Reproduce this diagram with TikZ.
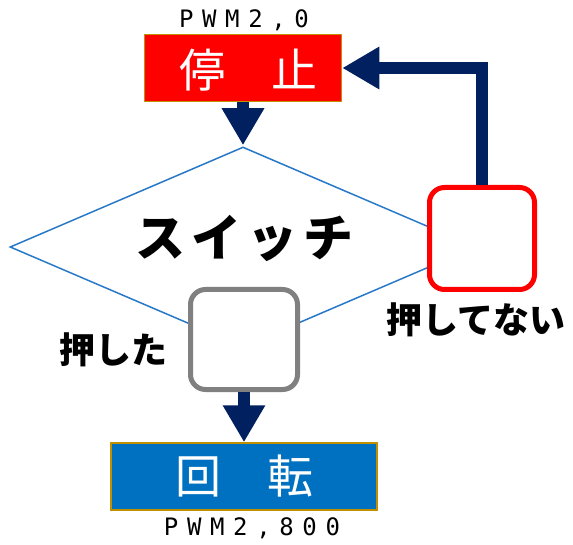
\documentclass[tikz,border=0pt]{standalone}
\usepackage{fontspec}
\newfontfamily\jp{Noto Sans CJK JP}
\newfontfamily\pwm[LetterSpace=36]{DejaVu Sans Mono}
\usetikzlibrary{arrows.meta,shapes.geometric,shadows}
\definecolor{navy}{HTML}{002060}
\definecolor{gold}{HTML}{C09000}
\definecolor{boxblue}{HTML}{0070C0}
\definecolor{linebl}{HTML}{2878C8}
\definecolor{greybd}{HTML}{808080}
\tikzset{
  procbox/.style={rectangle, draw=gold, line width=1.5pt, inner sep=0pt},
  condbox/.style={rectangle, rounded corners=15pt, fill=white, line width=5pt, inner sep=0pt,
    drop shadow={shadow xshift=2pt, shadow yshift=-2pt, opacity=0.25}},
  arr/.style={navy, line width=12.5pt, line join=miter, -{Triangle[width=40pt,length=37pt]}},
  bigtxt/.style={text=white, font=\jp\fontsize{46}{50}\selectfont, inner sep=0pt},
  lbl/.style={font=\jp\bfseries\fontsize{36}{40}\selectfont, inner sep=0pt},
  pwmtxt/.style={font=\pwm\fontsize{24}{26}\selectfont, inner sep=0pt}
}
\begin{document}
\begin{tikzpicture}[x=1pt,y=-1pt]
\useasboundingbox (0,0) rectangle (573,545);
% diamond
\node[diamond, draw=linebl, line width=1.5pt, minimum width=466pt, minimum height=200pt, inner sep=0pt] (dia) at (243,247) {};
\node[font=\jp\bfseries\fontsize{50}{54}\selectfont, inner sep=0pt] (sw) at (244,238) {ス\hspace{6pt}イ\hspace{6pt}ッ\hspace{6pt}チ};
% process boxes
\node[procbox, fill=red, minimum width=197pt, minimum height=67pt] (stop) at (243,68) {};
\node[bigtxt] (stoptxt) at (248,70) {停　止};
\node[procbox, fill=boxblue, minimum width=266pt, minimum height=67pt] (run) at (244,476.5) {};
\node[bigtxt] (runtxt) at (244.5,476) {回　転};
% PWM labels
\node[pwmtxt] (pwm0) at (244,20) {PWM2,0};
\node[pwmtxt] (pwm800) at (252,528) {PWM2,800};
% condition boxes
\node[condbox, draw=greybd, minimum width=107pt, minimum height=100pt] (yes) at (244,339.5) {};
\node[condbox, draw=red, minimum width=105pt, minimum height=102pt] (no) at (482,238.5) {};
% labels
\node[lbl] (lyes) at (113,350) {押した};
\node[lbl] (lno) at (476,320) {押してない};
% arrows
\draw[arr, shorten >=1pt] (stop.south) -- (dia.north);
\draw[arr] (yes.south) -- (run.north);
\draw[arr] (no.north) |- (stop.east);
\end{tikzpicture}
\end{document}
